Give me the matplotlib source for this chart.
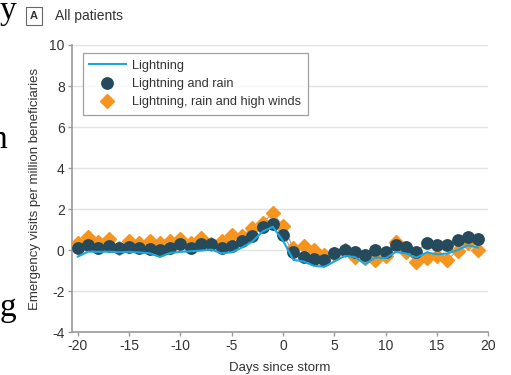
import matplotlib
matplotlib.use("Agg")
import matplotlib.pyplot as plt
import numpy as np

days = list(range(-20, 20))
lightning = [-0.31, -0.07, -0.08, -0.07, -0.10, -0.08, -0.11, -0.15, -0.33, -0.13,
             -0.08, -0.05, -0.02, 0.03, -0.15, -0.10, 0.13, 0.42, 0.91, 1.14,
             0.46, -0.47, -0.55, -0.76, -0.81, -0.55, -0.28, -0.33, -0.68, -0.36,
             -0.39, -0.08, -0.16, -0.36, -0.11, -0.20, -0.16, 0.00, 0.24, 0.13]
lightning_rain = [0.13, 0.24, 0.13, 0.21, 0.10, 0.18, 0.10, 0.05, 0.00, 0.10,
                  0.29, 0.10, 0.29, 0.29, 0.10, 0.21, 0.45, 0.70, 1.14, 1.27,
                  0.75, -0.11, -0.31, -0.41, -0.47, -0.16, 0.00, -0.11, -0.23, 0.00,
                  -0.07, 0.26, 0.16, -0.07, 0.37, 0.24, 0.24, 0.49, 0.65, 0.57]
lightning_rain_wind = [0.33, 0.62, 0.42, 0.57, 0.10, 0.45, 0.37, 0.45, 0.37, 0.45,
                       0.57, 0.37, 0.59, 0.30, 0.45, 0.75, 0.70, 1.07, 1.35, 1.79,
                       1.19, 0.10, 0.21, 0.00, -0.23, -0.20, 0.00, -0.31, -0.36, -0.47,
                       -0.28, 0.42, -0.11, -0.57, -0.36, -0.28, -0.47, -0.03, 0.37, 0.00]
x_ticks = [-20, -15, -10, -5, 0, 5, 10, 15, 20]
y_ticks = [-4, -2, 0, 2, 4, 6, 8, 10]

sans = ["Liberation Sans Narrow", "Liberation Sans", "DejaVu Sans"]
plt.rcParams["font.family"] = sans

fig = plt.figure(figsize=(5.11, 3.75), dpi=100)
ax = fig.add_axes([0.1403, 0.1139, 0.8153, 0.7661])

blue = "#1aa7e1"
dark = "#254a5c"
orange = "#f7941d"

ax.plot(days, lightning_rain_wind, color="#a0a0a0", lw=0.8, zorder=2)
ax.plot(days, lightning_rain, color="#a0a0a0", lw=0.8, zorder=2)
ax.plot(days, lightning_rain_wind, linestyle="none", marker="D", ms=6.8,
        color=orange, mec=orange, zorder=3, label="Lightning, rain and high winds")
ax.plot(days, lightning_rain, linestyle="none", marker="o", ms=8.2,
        color=dark, mec=dark, zorder=4, label="Lightning and rain")
ax.plot(days, lightning, color=blue, lw=1.5, zorder=5, label="Lightning")

ax.set_xlim(-20.6, 20)
ax.set_ylim(-4, 10)
ax.set_xticks(x_ticks)
ax.set_yticks(y_ticks)
ax.set_xticklabels([str(v) for v in x_ticks])
ax.set_yticklabels([str(v) for v in y_ticks])
ax.grid(axis="y", color="#e3e3e3", lw=1.0, zorder=0)
ax.set_axisbelow(True)
for s in ["top", "right"]:
    ax.spines[s].set_visible(False)
for s in ["left", "bottom"]:
    ax.spines[s].set_color("#9a9a9a")
    ax.spines[s].set_linewidth(1.2)
ax.tick_params(axis="both", colors="#9a9a9a", length=3, width=1, labelsize=10,
               labelcolor="#333333", pad=2)

ax.set_xlabel("Days since storm", fontsize=9.5, color="#333333", labelpad=6)
ax.set_ylabel("Emergency visits per million beneficiaries", fontsize=9.5,
              color="#333333", labelpad=6)

handles, labels = ax.get_legend_handles_labels()
order = [2, 1, 0]
leg = ax.legend([handles[i] for i in order], [labels[i] for i in order],
                loc="upper left", bbox_to_anchor=(0.02, 0.98), fontsize=9.2,
                frameon=True, fancybox=False, edgecolor="#888888",
                handlelength=2.9, handletextpad=0.5, borderpad=0.5,
                labelspacing=0.5, borderaxespad=0.2)
leg.get_frame().set_linewidth(0.9)
for t in leg.get_texts():
    t.set_color("#333333")

fig.text(34 / 511, 1 - 16 / 375, "A", fontsize=8, fontweight="bold",
         ha="center", va="center", color="#333333",
         bbox=dict(boxstyle="square,pad=0.35", fc="white", ec="#666666", lw=0.8))
fig.text(55 / 511, 1 - 16 / 375, "All patients", fontsize=10, ha="left",
         va="center", color="#333333")

serif = ["Liberation Serif", "DejaVu Serif"]
fig.text(0 / 511, 1 - 19 / 375, "y", fontsize=24, family=serif, ha="left",
         va="baseline", color="black")
fig.text(-10 / 511, 1 - 148 / 375, "n", fontsize=24, family=serif, ha="left",
         va="baseline", color="black")
fig.text(0 / 511, 1 - 316 / 375, "g", fontsize=24, family=serif, ha="left",
         va="baseline", color="black")

fig.savefig("out.png", dpi=100, facecolor="white")
